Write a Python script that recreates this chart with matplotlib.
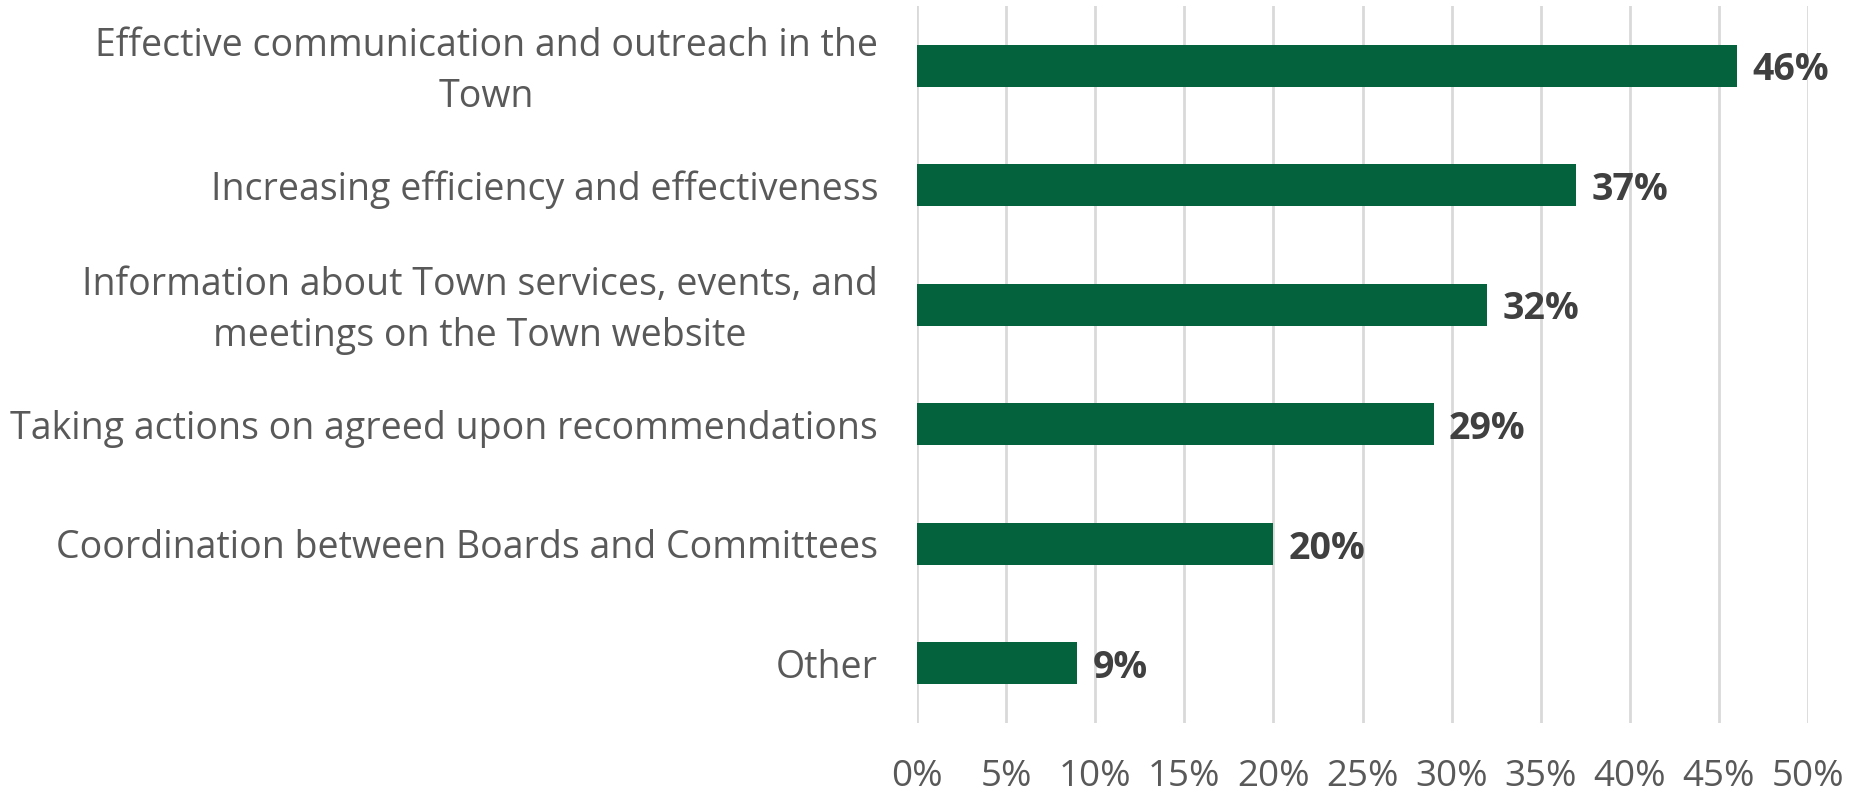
import matplotlib.pyplot as plt
from matplotlib.ticker import FuncFormatter
from matplotlib.transforms import ScaledTranslation

# Survey results: priority areas for improvement
categories = [
    "Effective communication and outreach in the\nTown",
    "Increasing efficiency and effectiveness",
    "Information about Town services, events, and\nmeetings on the Town website",
    "Taking actions on agreed upon recommendations",
    "Coordination between Boards and Committees",
    "Other",
]
values = [46, 37, 32, 29, 20, 9]
x_ticks = [0, 5, 10, 15, 20, 25, 30, 35, 40, 45, 50]

plt.rcParams['font.family'] = ['Open Sans', 'DejaVu Sans']

fig = plt.figure(figsize=(18.51, 7.95), dpi=100)
ax = fig.add_axes([0.4954, 0.0906, 0.4814, 0.9019])

y_pos = list(range(len(categories)))
ax.barh(y_pos, values, height=0.35, color='#04623C', zorder=3)

# value labels at bar ends
for y, v in zip(y_pos, values):
    ax.text(v + 0.85, y + 0.04, f"{v}%", va='center', ha='left', fontsize=27,
            fontweight='bold', color='#404040', zorder=4)

ax.set_ylim(len(categories) - 0.5, -0.5)
ax.set_xlim(0, 50)
ax.set_yticks(y_pos)
ax.set_yticklabels(categories, fontsize=27, color='#595959',
                   multialignment='center', linespacing=1.45)
ax.set_xticks(x_ticks)
ax.xaxis.set_major_formatter(FuncFormatter(lambda x, _: f"{int(x)}%"))
ax.tick_params(axis='x', length=0, pad=26, labelsize=26.5, labelcolor='#595959')
ax.tick_params(axis='y', length=0, pad=28)

# nudge the two-line labels up a little
for lbl in ax.get_yticklabels():
    if "\n" in lbl.get_text():
        lbl.set_transform(lbl.get_transform() + ScaledTranslation(0, 0.05, fig.dpi_scale_trans))

ax.grid(axis='x', color='#D9D9D9', linewidth=2, zorder=0)
for s in ax.spines.values():
    s.set_visible(False)

fig.savefig('out.png', dpi=100)
